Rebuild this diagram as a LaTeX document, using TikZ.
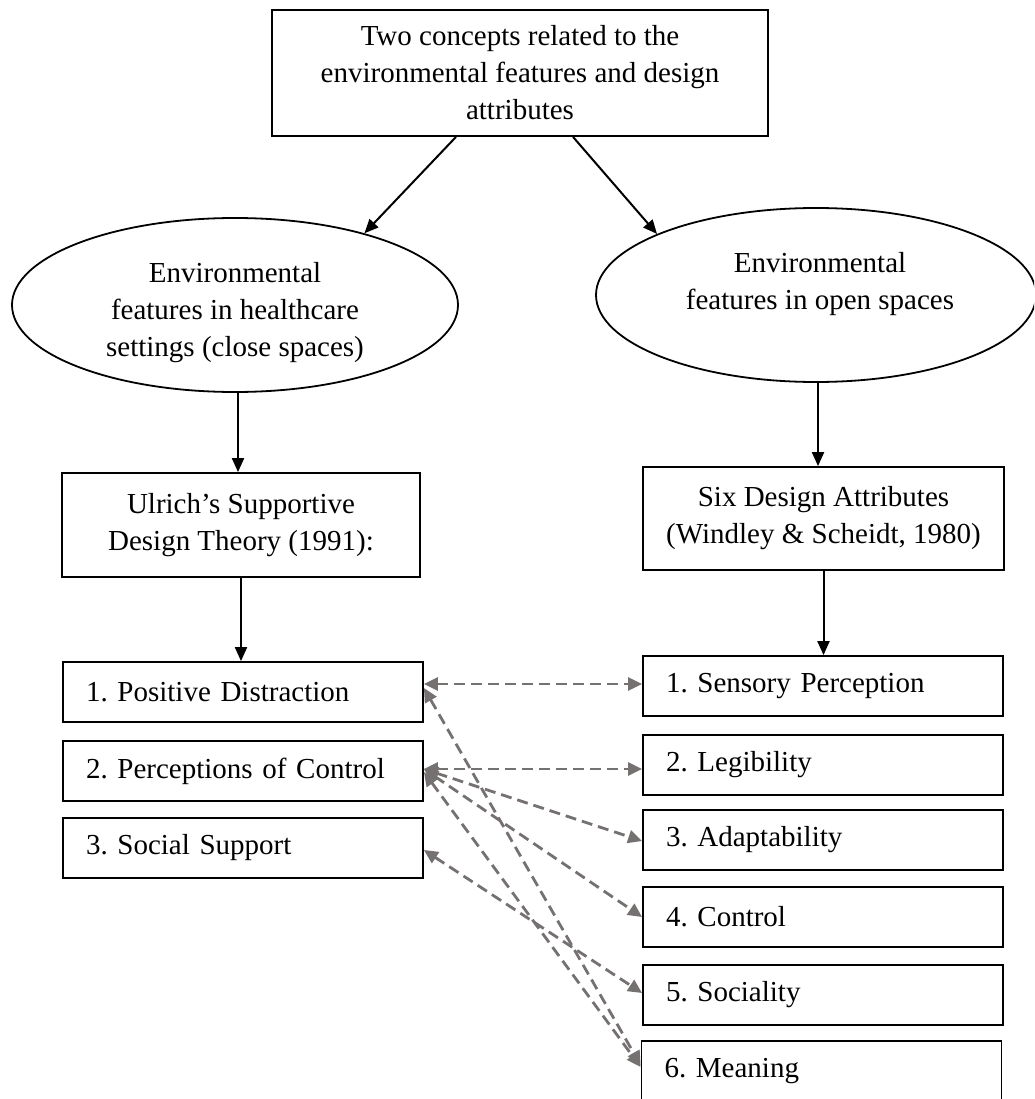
\documentclass[tikz,border=0pt]{standalone}
\usepackage{fontspec}
\setmainfont{Liberation Serif}
\usetikzlibrary{arrows.meta,shapes.geometric,calc}
\definecolor{dgray}{RGB}{118,113,113}
\begin{document}
\begin{tikzpicture}[x=1pt,y=-1pt,
  txt/.style={font=\fontsize{29pt}{37pt}\selectfont\frenchspacing},
  cbox/.style={txt,draw=black,line width=1.8pt,align=center,inner sep=0pt},
  item/.style={txt,draw=black,line width=1.8pt,minimum height=60pt,text width=314pt,inner xsep=23pt,inner ysep=0pt,align=left},
  oval/.style={draw=black,line width=1.8pt,ellipse,minimum width=446pt,minimum height=174pt,inner sep=0pt},
  otxt/.style={txt,align=center,inner sep=0pt},
  arr/.style={line width=2pt,-{Triangle[length=14pt,width=12pt]}},
  darr/.style={dgray,line width=2.8pt,dash pattern=on 11pt off 6pt,{Triangle[length=14pt,width=13pt]}-{Triangle[length=14pt,width=13pt]}}
]
\useasboundingbox (0,0) rectangle (1034,1099);
\clip (0,0) rectangle (1034,1099);
\fill[white] (0,0) rectangle (1034,1099);

% top
\node[cbox,minimum width=496pt,minimum height=126pt] (top) at (520,73)
  {\rule{0pt}{6pt}Two concepts related to the\\environmental features and design\\attributes};

% ellipses
\node[oval] (lel) at (235,305) {};
\node[otxt] (lelt) at (235,313) {Environmental\\features in healthcare\\settings (close spaces)};
\node[oval,minimum width=440pt] (rel) at (816,295) {};
\node[otxt] (relt) at (820,284) {Environmental\\features in open spaces};

% theory boxes
\node[cbox,minimum width=358pt,minimum height=104pt] (ulr) at (241,525)
  {Ulrich’s Supportive\\Design Theory (1991):};
\node[cbox,minimum width=361pt,minimum height=103pt] (six) at (823.5,518.5)
  {Six Design Attributes\\(Windley \& Scheidt, 1980)};

% left items
\node[item] (l1) at (243,692) {1. Positive Distraction};
\node[item] (l2) at (243,771) {2. Perceptions of Control};
\node[item] (l3) at (243,848) {3. Social Support};

% right items
\node[item] (r1) at (823,686) {1. Sensory Perception};
\node[item] (r2) at (823,765) {2. Legibility};
\node[item] (r3) at (823,840) {3. Adaptability};
\node[item] (r4) at (823,917) {4. Control};
\node[item] (r5) at (823,995) {5. Sociality};
\node[item] (r6) at (821.5,1071) {6. Meaning};

% solid arrows
\draw[arr] ([xshift=-64pt]top.south) -- (lel.29);
\draw[arr] ([xshift=53pt]top.south) -- (rel.159);
\draw[arr] ([xshift=3pt]lel.south) -- ([xshift=3pt]lel.south |- ulr.north);
\draw[arr] (ulr.south) -- (ulr.south |- l1.north);
\draw[arr] ([xshift=2pt]rel.south) -- ([xshift=2pt]rel.south |- six.north);
\draw[arr] (six.south) -- (six.south |- r1.north);

% dashed links
\draw[darr] ([yshift=8pt]l1.east) -- ([yshift=8pt]l1.east -| r1.west);
\draw[darr] ([yshift=2pt]l2.east) -- ([yshift=2pt]l2.east -| r2.west);
\draw[darr] ([yshift=2pt]l2.east) -- ([yshift=-1pt]r3.west);
\draw[darr] ([yshift=2pt]l2.east) -- (r4.west);
\draw[darr] ([yshift=-2pt]l3.east) -- ([yshift=2pt]r5.west);
\draw[darr] ([yshift=4pt]l1.east) -- ([yshift=6pt]r6.west);
\draw[darr] ([yshift=-1pt]l2.east) -- ([yshift=4pt]r6.west);
\end{tikzpicture}
\end{document}
